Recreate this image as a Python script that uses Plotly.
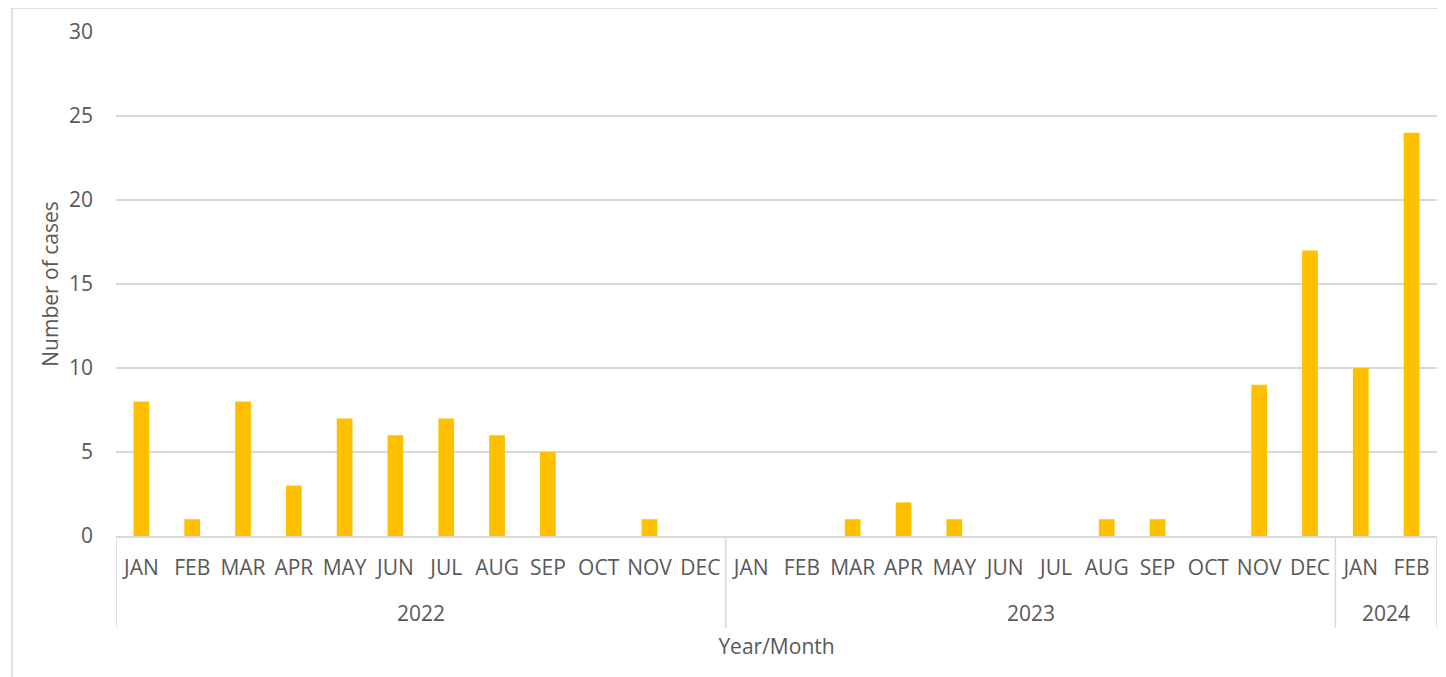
import plotly.graph_objects as go

years = ["2022"] * 12 + ["2023"] * 12 + ["2024"] * 2
months = ["JAN", "FEB", "MAR", "APR", "MAY", "JUN", "JUL", "AUG", "SEP", "OCT", "NOV", "DEC",
          "JAN", "FEB", "MAR", "APR", "MAY", "JUN", "JUL", "AUG", "SEP", "OCT", "NOV", "DEC",
          "JAN", "FEB"]
cases = [8, 1, 8, 3, 7, 6, 7, 6, 5, 0, 1, 0,
         0, 0, 1, 2, 1, 0, 0, 1, 1, 0, 9, 17,
         10, 24]
y_ticks = [0, 5, 10, 15, 20, 25, 30]

FONT = "Open Sans"
GRAY = "#595959"
LINE = "#D9D9D9"
FS = 21

idx = list(range(len(cases)))

# year groups (start, end indices) derived from the data
groups = []
for i, yv in enumerate(years):
    if not groups or groups[-1][0] != yv:
        groups.append([yv, i, i])
    else:
        groups[-1][2] = i

fig = go.Figure()
fig.add_trace(go.Bar(
    x=idx, y=cases,
    marker=dict(color="#FFC000", line=dict(width=0)),
    width=0.31,
))

W, H = 1438, 669
L, R, T, B = 108, 9, 24, 141
pw, ph = W - L - R, H - T - B

fig.update_layout(
    width=W, height=H,
    margin=dict(l=L, r=R, t=T, b=B),
    plot_bgcolor="white", paper_bgcolor="white",
    font=dict(family=FONT, size=FS, color=GRAY),
    showlegend=False,
    xaxis=dict(
        range=[-0.5, len(cases) - 0.5],
        tickvals=idx, ticktext=months,
        showline=True, linecolor=LINE, linewidth=1.5,
        showgrid=False, zeroline=False, ticks="",
        ticklabelstandoff=12,
        tickfont=dict(size=FS, color=GRAY),
        title=dict(text="Year/Month", font=dict(size=FS, color=GRAY), standoff=59),
    ),
    yaxis=dict(
        range=[0, 30], tickvals=y_ticks,
        showgrid=True, gridcolor=LINE, gridwidth=1.5,
        zeroline=False, showline=False,
        ticklabelstandoff=22,
        tickfont=dict(size=FS, color=GRAY),
        title=dict(text="Number of cases", font=dict(size=FS, color=GRAY), standoff=4),
    ),
)

div_depth = 92 / ph
year_y = 77 / ph

# year labels and dividers
for name, s, e in groups:
    fig.add_annotation(
        x=(s + e) / 2, y=-year_y, xref="x", yref="paper",
        text=name, showarrow=False, yanchor="middle",
        font=dict(size=FS, color=GRAY),
    )
bounds = [groups[0][1] - 0.5] + [g[2] + 0.5 for g in groups]
for bx in bounds:
    fig.add_shape(
        type="line", xref="x", yref="paper",
        x0=bx, x1=bx, y0=0, y1=-div_depth,
        line=dict(color=LINE, width=1.5),
    )

# outer chart border
fig.add_shape(
    type="rect", xref="paper", yref="paper",
    x0=(4 - L) / pw, x1=(W + 10 - L) / pw,
    y0=-(H + 10 - (H - B)) / ph, y1=(H - B) / ph,
    line=dict(color=LINE, width=1.5), fillcolor="rgba(0,0,0,0)", layer="below",
)

fig.write_html("out.html")
